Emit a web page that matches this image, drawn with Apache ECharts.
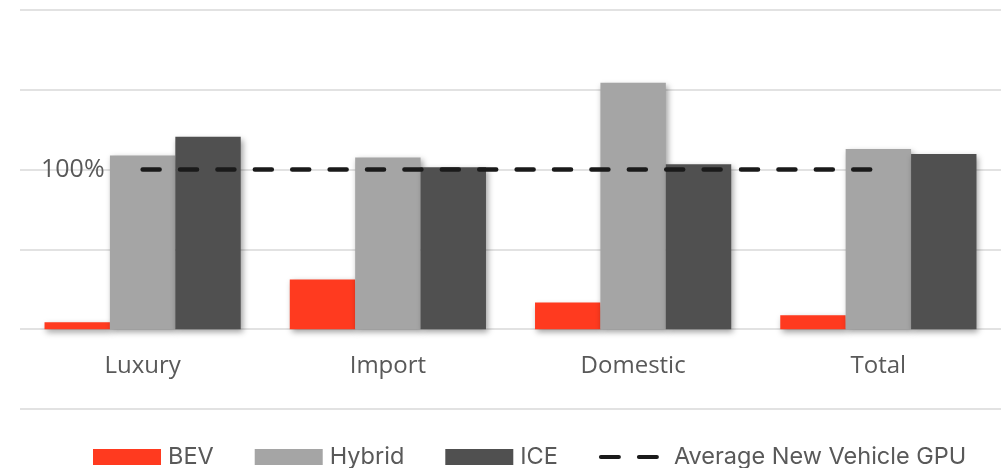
<!DOCTYPE html>
<html>
<head>
<meta charset="utf-8">
<script src="https://cdn.jsdelivr.net/npm/echarts@6/dist/echarts.min.js"></script>
<style>
  html, body { margin: 0; padding: 0; background: #ffffff; }
  #chart { width: 1005px; height: 468px; }
</style>
</head>
<body>
<div id="chart"></div>
<script>
// Gross profit per unit by segment, indexed to the new-vehicle average (100%)
const categories = ['Luxury', 'Import', 'Domestic', 'Total'];
const bevValues = [4.4, 31.2, 16.7, 8.8];
const hybridValues = [108.9, 107.6, 154.4, 112.9];
const iceValues = [120.6, 101.4, 103.3, 109.7];
const averageValues = [100, 100, 100, 100];
const seriesNames = ['BEV', 'Hybrid', 'ICE', 'Average New Vehicle GPU'];

const labelFont = '"Open Sans", "Noto Sans", sans-serif';
const legendFont = 'Inter, "Noto Sans", sans-serif';
const lineColor = '#1a1a1a';

// two rounded dashes for the legend entry of the average line;
// the empty move at x=68 keeps the icon box full width so the dashes stay left-aligned
const dashIcon = 'path://M2,0h18a2,2 0 0 1 0,4h-18a2,2 0 0 1 0,-4z' +
  'M40,0h18a2,2 0 0 1 0,4h-18a2,2 0 0 1 0,-4z M68,2L68,2';

const barShadow = {
  shadowColor: 'rgba(0,0,0,0.38)',
  shadowBlur: 6,
  shadowOffsetX: 2,
  shadowOffsetY: 3
};

function barSeries(name, values, color) {
  return {
    name: name,
    type: 'bar',
    data: values,
    barGap: '0%',
    barCategoryGap: '20%',
    itemStyle: Object.assign({ color: color }, barShadow),
    emphasis: { disabled: true }
  };
}

const chart = echarts.init(document.getElementById('chart'), null, { renderer: 'canvas' });

chart.setOption({
  animation: false,
  backgroundColor: '#ffffff',
  grid: { left: 20, right: 4, top: 10, bottom: 59, containLabel: false },
  legend: {
    left: 93,
    top: 445,
    padding: 0,
    itemWidth: 68,
    itemHeight: 16,
    itemGap: 41,
    itemStyle: { shadowBlur: 0, shadowOffsetX: 0, shadowOffsetY: 0, shadowColor: 'transparent' },
    data: [
      { name: seriesNames[0], icon: 'rect' },
      { name: seriesNames[1], icon: 'rect' },
      { name: seriesNames[2], icon: 'rect' },
      { name: seriesNames[3], icon: dashIcon, itemStyle: { color: lineColor, borderWidth: 0 } }
    ],
    textStyle: { fontFamily: legendFont, fontSize: 23.5, color: '#595959', padding: [0, 0, 0, 2] }
  },
  xAxis: {
    type: 'category',
    data: categories,
    axisLine: { show: false },
    axisTick: { show: false },
    // category names sit between the zero line and the -50% gridline
    axisLabel: { margin: -55, fontFamily: labelFont, fontSize: 24, color: '#595959' },
    splitLine: { show: false }
  },
  yAxis: {
    type: 'value',
    min: -50,
    max: 200,
    interval: 50,
    axisLine: { show: false },
    axisTick: { show: false },
    splitLine: { show: true, lineStyle: { color: '#d9d9d9', width: 1.5 } },
    axisLabel: {
      inside: true,
      margin: 21,
      fontFamily: labelFont,
      fontSize: 25,
      color: '#595959',
      formatter: function (v) { return v === 100 ? '100%' : ''; }
    }
  },
  series: [
    barSeries(seriesNames[0], bevValues, '#ff3a1f'),
    barSeries(seriesNames[1], hybridValues, '#a5a5a5'),
    barSeries(seriesNames[2], iceValues, '#505050'),
    {
      name: seriesNames[3],
      type: 'line',
      data: averageValues,
      symbol: 'none',
      z: 5,
      lineStyle: { color: lineColor, width: 4.5, type: [17, 20.4], cap: 'round' },
      itemStyle: { color: lineColor },
      emphasis: { disabled: true }
    }
  ]
});
</script>
</body>
</html>
